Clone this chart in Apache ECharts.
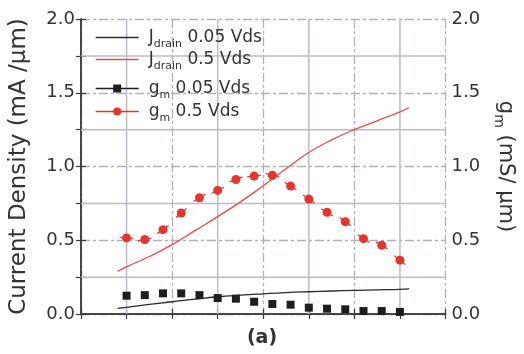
<!DOCTYPE html>
<html><head><meta charset="utf-8">
<script src="https://cdn.jsdelivr.net/npm/echarts@6/dist/echarts.min.js"></script>
<style>html,body{margin:0;padding:0;background:#fff}#c{width:524px;height:354px}</style>
</head><body><div id="c"></div>
<script>
// ---- data ----
const gmX    = [1.0, 1.4, 1.8, 2.2, 2.6, 3.0, 3.4, 3.8, 4.2, 4.6, 5.0, 5.4, 5.8, 6.2, 6.6, 7.0];
const gm05   = [0.516, 0.505, 0.572, 0.685, 0.788, 0.838, 0.912, 0.935, 0.941, 0.867, 0.779, 0.689, 0.626, 0.511, 0.466, 0.365];
const gm005  = [0.124, 0.128, 0.140, 0.140, 0.128, 0.108, 0.104, 0.083, 0.068, 0.063, 0.043, 0.036, 0.032, 0.020, 0.020, 0.014];
const jX     = [0.8, 1.0, 1.5, 2.0, 2.5, 3.0, 3.5, 4.0, 4.5, 5.0, 5.5, 6.0, 6.5, 7.0, 7.2];
const jd05   = [0.29, 0.32, 0.39, 0.47, 0.565, 0.66, 0.76, 0.87, 0.985, 1.095, 1.18, 1.25, 1.31, 1.37, 1.40];
const jd005  = [0.038, 0.045, 0.065, 0.083, 0.101, 0.117, 0.128, 0.137, 0.145, 0.151, 0.156, 0.160, 0.164, 0.167, 0.170];
const yTickLabels = ['0.0', '0.5', '1.0', '1.5', '2.0'];
const xMinorGrid = [1, 3, 5, 7];
const yMinorGrid = [0.25, 0.75, 1.25, 1.75];
const seriesNames = ['J_drain 0.05 Vds', 'J_drain 0.5 Vds', 'g_m 0.05 Vds', 'g_m 0.5 Vds'];

const FONT = 'DejaVu Sans';
const TXT = '#333';
const RED = '#e8342d';
const BLK = '#1e1e1e';
const GRID_SOLID = '#b9bdc6';
const GRID_DASH = '#aeb2bb';
const AX = '#3c3c3c';
const X_MIN = 0, X_MAX = 8, Y_MIN = 0, Y_MAX = 2;

const zip = (xs, ys) => xs.map((x, i) => [x, ys[i]]);

const chart = echarts.init(document.getElementById('c'), null, {renderer: 'canvas'});

function yLabel(v) {
  const s = v.toFixed(1);
  return (yTickLabels.includes(s) && Math.abs(v * 2 - Math.round(v * 2)) < 1e-6) ? s : '';
}

const baseY = {
  type: 'value', min: Y_MIN, max: Y_MAX, interval: 0.5,
  axisLine: {show: true, lineStyle: {color: AX, width: 1.5}},
  axisTick: {show: true, inside: true, length: 5, lineStyle: {color: AX, width: 1.2}},
  minorTick: {show: true, splitNumber: 2, length: 5, lineStyle: {color: AX, width: 1.2}},
  axisLabel: {show: true, formatter: yLabel, fontFamily: FONT, fontSize: 18, color: TXT, margin: 6},
};

const legendRich = {
  f: {fontFamily: FONT, fontSize: 17, color: TXT, lineHeight: 24, padding: [0, 0, 0, 5]},
  m: {fontFamily: FONT, fontSize: 17, color: TXT, lineHeight: 24},
  s: {fontFamily: FONT, fontSize: 11, color: TXT, lineHeight: 11, verticalAlign: 'bottom'}
};
function legendFmt(name) {
  const parts = name.split(' ');
  const [base, sub] = parts[0].split('_');
  return '{f|' + base + '}{s|' + sub + '}{m| ' + parts.slice(1).join(' ') + '}';
}
const rowCenters = [41, 63, 92, 115];
const legends = seriesNames.map((n, k) => ({
  data: [k < 2 ? {name: n, itemStyle: {opacity: 0}} : {name: n}],
  left: 95, top: rowCenters[k] - 12, padding: 0,
  itemWidth: 43, itemHeight: 10,
  formatter: legendFmt,
  textStyle: {rich: legendRich},
  lineStyle: {opacity: 1, width: 1.4},
  selectedMode: false
}));

function gridLineItem(vertical) {
  return function (params, api) {
    const v = api.value(vertical ? 0 : 1);
    const p1 = vertical ? api.coord([v, Y_MIN]) : api.coord([X_MIN, v]);
    const p2 = vertical ? api.coord([v, Y_MAX]) : api.coord([X_MAX, v]);
    return {type: 'line', silent: true,
            shape: {x1: p1[0], y1: p1[1], x2: p2[0], y2: p2[1]},
            style: {stroke: GRID_SOLID, lineWidth: 1.5}};
  };
}

const option = {
  animation: false,
  backgroundColor: '#fff',
  grid: {left: 79, right: 77, top: 19, bottom: 40},
  legend: legends,
  xAxis: [
    {
      type: 'value', min: X_MIN, max: X_MAX, interval: 2, position: 'bottom',
      axisLine: {show: true, lineStyle: {color: AX, width: 1.5}},
      axisTick: {show: true, inside: true, length: 5, lineStyle: {color: AX, width: 1.2}},
      minorTick: {show: true, splitNumber: 2, length: 5, lineStyle: {color: AX, width: 1.2}},
      axisLabel: {show: false},
      splitLine: {show: true, lineStyle: {color: GRID_DASH, width: 1.3, type: [9, 3, 3, 3]}}
    },
    {
      type: 'value', min: X_MIN, max: X_MAX, interval: 2, position: 'top',
      axisLine: {show: true, lineStyle: {color: AX, width: 1.5}},
      axisTick: {show: true, inside: true, length: 5, lineStyle: {color: AX, width: 1.2}},
      minorTick: {show: true, splitNumber: 2, length: 5, lineStyle: {color: AX, width: 1.2}},
      axisLabel: {show: false},
      splitLine: {show: false}
    }
  ],
  yAxis: [
    Object.assign({}, baseY, {
      position: 'left',
      name: 'Current Density (mA /µm)',
      nameLocation: 'middle', nameRotate: 90, nameGap: 50,
      nameTextStyle: {fontFamily: FONT, fontSize: 23, color: TXT},
      splitLine: {show: true, lineStyle: {color: GRID_DASH, width: 1.3, type: [9, 3, 3, 3]}}
    }),
    Object.assign({}, baseY, {
      position: 'right',
      name: '{m|g}{s|m}{m| (mS/ µm)}',
      nameLocation: 'middle', nameRotate: -90, nameGap: 46,
      nameTextStyle: {
        fontFamily: FONT, fontSize: 21, color: TXT,
        rich: {
          m: {fontFamily: FONT, fontSize: 21, color: TXT, lineHeight: 28},
          s: {fontFamily: FONT, fontSize: 14, color: TXT, lineHeight: 14, verticalAlign: 'bottom'}
        }
      },
      splitLine: {show: false}
    })
  ],
  graphic: [{
    type: 'text', left: 'center', top: 329,
    style: {text: '(a)', fontFamily: FONT, fontSize: 19, fontWeight: 'bold', fill: TXT}
  }],
  series: [
    {
      name: 'minorGridX', type: 'custom', xAxisIndex: 0, yAxisIndex: 0, z: 1, silent: true,
      data: xMinorGrid.map(v => [v, Y_MIN]), renderItem: gridLineItem(true)
    },
    {
      name: 'minorGridY', type: 'custom', xAxisIndex: 0, yAxisIndex: 0, z: 1, silent: true,
      data: yMinorGrid.map(v => [X_MIN, v]), renderItem: gridLineItem(false)
    },
    {
      name: seriesNames[0], type: 'line', xAxisIndex: 0, yAxisIndex: 0,
      data: zip(jX, jd005), smooth: true, symbol: 'none',
      lineStyle: {color: '#2a2a2a', width: 1.3}, itemStyle: {color: '#2a2a2a'}, z: 3
    },
    {
      name: seriesNames[1], type: 'line', xAxisIndex: 0, yAxisIndex: 0,
      data: zip(jX, jd05), smooth: true, symbol: 'none',
      lineStyle: {color: '#ee4a44', width: 1.3}, itemStyle: {color: '#ee4a44'}, z: 3
    },
    {
      name: seriesNames[2], type: 'line', xAxisIndex: 0, yAxisIndex: 1,
      data: zip(gmX, gm005), symbol: 'rect', symbolSize: 8,
      lineStyle: {color: BLK, opacity: 0}, itemStyle: {color: BLK}, z: 4
    },
    {
      name: 'gmSegments', type: 'custom', xAxisIndex: 0, yAxisIndex: 1,
      data: zip(gmX, gm05), z: 4,
      renderItem: function (params, api) {
        const i = params.dataIndex, n = gmX.length;
        const p = api.coord([api.value(0), api.value(1)]);
        const ia = Math.max(i - 1, 0), ib = Math.min(i + 1, n - 1);
        const a = api.coord([gmX[ia], gm05[ia]]);
        const b = api.coord([gmX[ib], gm05[ib]]);
        let dx = b[0] - a[0], dy = b[1] - a[1];
        const L = Math.hypot(dx, dy) || 1; dx /= L; dy /= L;
        const h = 7;
        return {type: 'line', shape: {x1: p[0] - dx * h, y1: p[1] - dy * h, x2: p[0] + dx * h, y2: p[1] + dy * h},
                style: {stroke: RED, lineWidth: 1.2}};
      }
    },
    {
      name: seriesNames[3], type: 'line', xAxisIndex: 0, yAxisIndex: 1,
      data: zip(gmX, gm05), symbol: 'circle', symbolSize: 9,
      lineStyle: {color: RED, opacity: 0}, itemStyle: {color: RED}, z: 5
    }
  ]
};
chart.setOption(option);
</script>
</body></html>
